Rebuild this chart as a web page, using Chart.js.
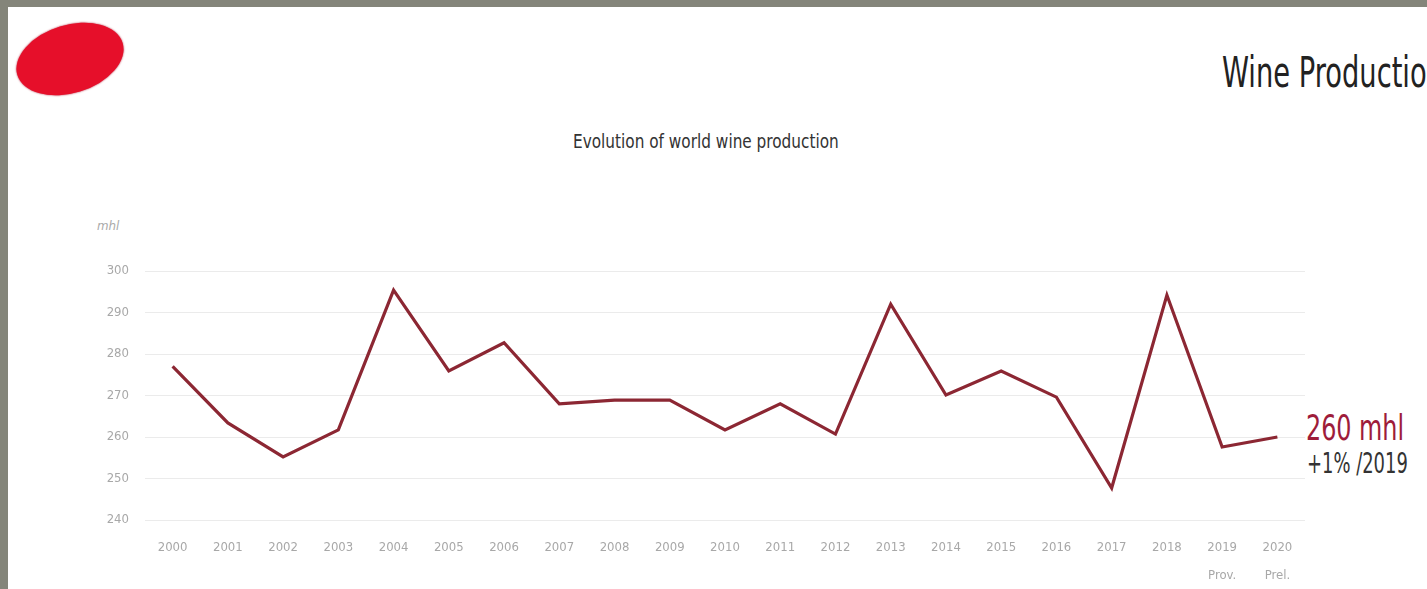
<!DOCTYPE html>
<html lang="en">
<head>
<meta charset="UTF-8">
<title>Wine Production</title>
<script src="https://cdn.jsdelivr.net/npm/chart.js"></script>
<style>
    html, body {
        margin: 0;
        padding: 0;
        width: 1427px;
        height: 589px;
        overflow: hidden;
        background: #84857a;
        font-family: 'DejaVu Sans Condensed', 'DejaVu Sans', sans-serif;
    }
    .slide {
        position: absolute;
        left: 8px;
        top: 7px;
        right: 0;
        bottom: 0;
        background: #fff;
    }
    .logo {
        position: absolute;
        left: 15px;
        top: 25px;
        width: 110px;
        height: 68px;
        border-radius: 50%;
        background: #e60f2a;
        box-shadow: 0 0 2px #b0102a;
        transform: rotate(-17deg);
    }
    .txt {
        position: absolute;
        line-height: 1;
        white-space: nowrap;
        transform-origin: left top;
    }
    .page-title { left: 1222px; top: 52px; font-size: 42px; color: #222; }
    .chart-title { left: 573px; top: 132px; font-size: 19px; color: #333; }
    .unit { left: 97px; top: 220px; font-size: 12px; font-style: italic; color: #aaa; }
    .big { left: 1306px; top: 410px; font-size: 36px; color: #9e1c3a; }
    .small { left: 1307px; top: 449px; font-size: 29px; color: #333; }
    #chart {
        position: absolute;
        left: 60px;
        top: 230px;
    }
</style>
</head>
<body>
<div class="slide"></div>
<div class="logo"></div>
<div class="txt page-title" data-w="222">Wine Production</div>
<div class="txt chart-title" data-w="266">Evolution of world wine production</div>
<div class="txt unit" data-w="22">mhl</div>
<div class="txt big" data-w="98">260 mhl</div>
<div class="txt small" data-w="101">+1% /2019</div>
<canvas id="chart" width="1280" height="359"></canvas>
<script>
// datos (mhl)
const years = ['2000', '2001', '2002', '2003', '2004', '2005', '2006', '2007', '2008', '2009',
    '2010', '2011', '2012', '2013', '2014', '2015', '2016', '2017', '2018', '2019', '2020'];
const subLabels = { '2019': 'Prov.', '2020': 'Prel.' };
const production = [277, 263.4, 255.2, 261.7, 295.4, 275.9, 282.7, 268, 268.9, 268.9,
    261.7, 268, 260.7, 292, 270.1, 275.9, 269.6, 247.7, 294.2, 257.6, 260];
const yTicks = [240, 250, 260, 270, 280, 290, 300];

// textos estrechos como en la diapositiva
document.querySelectorAll('.txt').forEach(el => {
    const w = parseFloat(el.dataset.w);
    el.style.transform = 'scaleX(' + (w / el.offsetWidth) + ')';
});

const labels = years.map(y => subLabels[y] ? [y, subLabels[y]] : y);
const font = "'DejaVu Sans Condensed', 'DejaVu Sans', sans-serif";

new Chart(document.getElementById('chart'), {
    type: 'line',
    data: {
        labels: labels,
        datasets: [{
            data: production,
            borderColor: '#8c2733',
            borderWidth: 3.2,
            pointRadius: 0,
            tension: 0,
            fill: false
        }]
    },
    options: {
        responsive: false,
        animation: false,
        layout: { padding: { top: 41, right: 35, left: 0, bottom: 0 } },
        plugins: { legend: { display: false }, tooltip: { enabled: false } },
        scales: {
            x: {
                offset: true,
                grid: { display: false },
                border: { display: false },
                ticks: {
                    color: '#a8a8a8',
                    font: { family: font, size: 13, lineHeight: 2.15 },
                    padding: 6,
                    maxRotation: 0,
                    autoSkip: false
                },
                afterFit: s => { s.height = 69; }
            },
            y: {
                min: yTicks[0],
                max: yTicks[yTicks.length - 1],
                afterBuildTicks: s => { s.ticks = yTicks.map(v => ({ value: v })); },
                grid: { color: '#ebebeb', lineWidth: 1, drawTicks: false },
                border: { display: false },
                ticks: { color: '#a8a8a8', font: { family: font, size: 13 }, padding: 16 },
                afterFit: s => { s.width = 85; }
            }
        }
    }
});
</script>
</body>
</html>
